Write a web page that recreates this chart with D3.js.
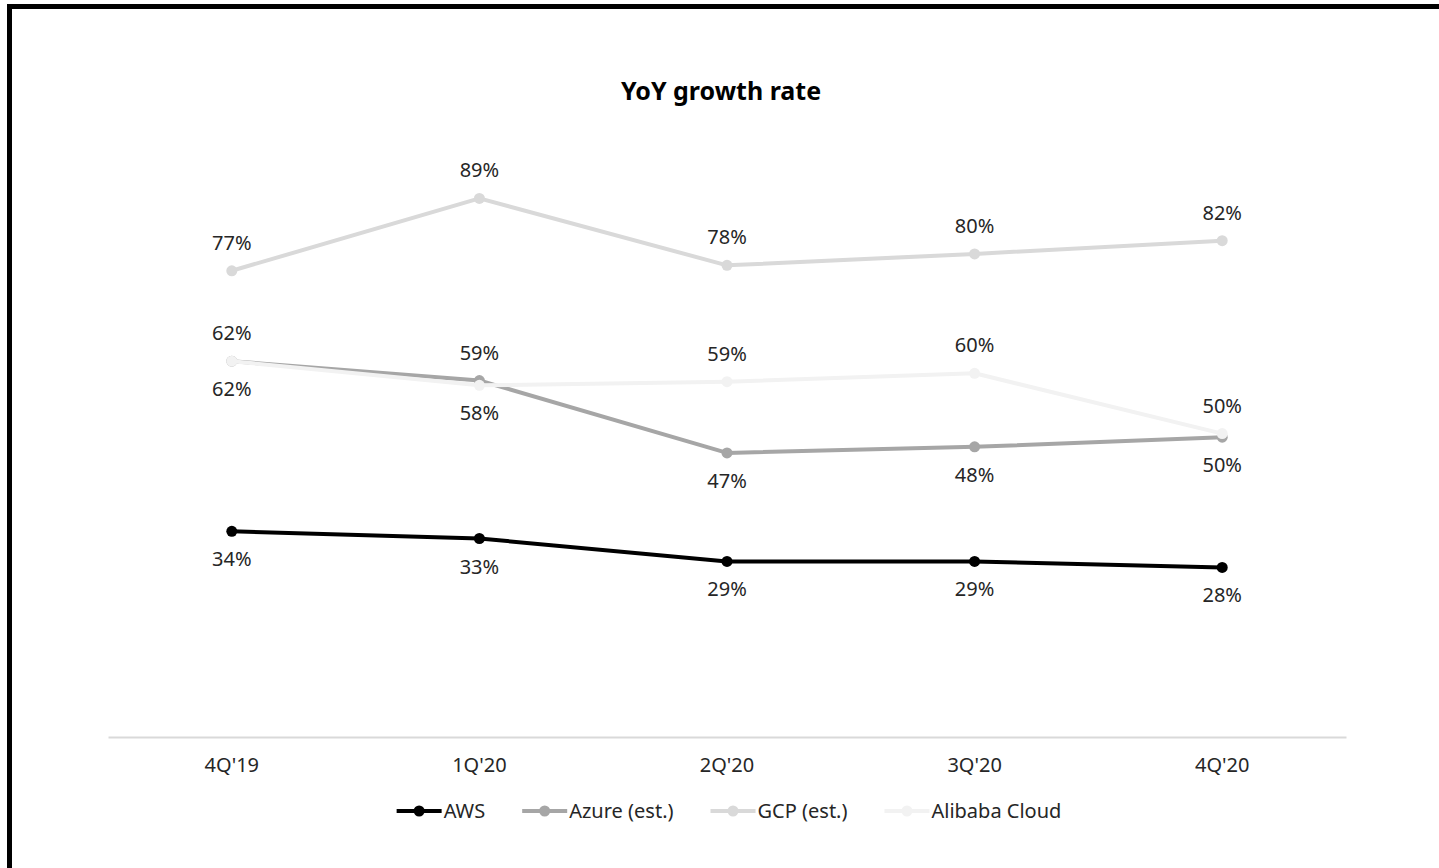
<!DOCTYPE html>
<html>
<head>
<meta charset="utf-8">
<script src="https://cdn.jsdelivr.net/npm/d3@7"></script>
<style>
  body { margin: 0; background: #fff; }
  svg { display: block; font-family: "Noto Sans", sans-serif; }
</style>
</head>
<body>
<svg width="1439" height="868"></svg>
<script>
// quarters on the x axis
var quarters = ["4Q'19", "1Q'20", "2Q'20", "3Q'20", "4Q'20"];
var seriesNames = ["AWS", "Azure (est.)", "GCP (est.)", "Alibaba Cloud"];

// YoY growth in %
var awsValues = [34.2, 33.0, 29.2, 29.2, 28.2];
var azureValues = [62.4, 59.2, 47.2, 48.2, 49.8];
var gcpValues = [77.4, 89.4, 78.3, 80.2, 82.4];
var alibabaValues = [62.4, 58.4, 59.0, 60.4, 50.4];

var colors = ["#000000", "#a6a6a6", "#d9d9d9", "#f2f2f2"];
// where each point label sits, +1 below the point, -1 above
var labelSide = [
    [1, 1, 1, 1, 1],
    [-1, -1, 1, 1, 1],
    [-1, -1, -1, -1, -1],
    [1, 1, -1, -1, -1]
];

var series = [awsValues, azureValues, gcpValues, alibabaValues].map(function (vals, i) {
    return {name: seriesNames[i], color: colors[i], sides: labelSide[i],
        values: vals.map(function (v, j) { return {q: quarters[j], v: v}; })};
});

var svg = d3.select("svg");

// frame round the chart
svg.append("rect")
    .attr("x", 9.5).attr("y", 6.5)
    .attr("width", 1460).attr("height", 900)
    .attr("fill", "none").attr("stroke", "#000").attr("stroke-width", 5);

svg.append("text")
    .attr("x", 721).attr("y", 91)
    .attr("dy", "0.35em")
    .attr("text-anchor", "middle")
    .attr("font-size", 25).attr("font-weight", "bold")
    .attr("fill", "#000")
    .text("YoY growth rate");

var x = d3.scaleBand().domain(quarters).range([108, 1346]);
var y = d3.scaleLinear().domain([0, 100]).range([737.5, 134.5]);

// x axis
var xAxis = svg.append("g")
    .attr("transform", "translate(0,737)")
    .call(d3.axisBottom(x).tickSize(0).tickPadding(21));
xAxis.select(".domain").attr("stroke", "#d9d9d9").attr("stroke-width", 2);
xAxis.selectAll("text")
    .attr("font-size", 20).attr("fill", "#262626")
    .attr("font-family", "Noto Sans, sans-serif");

var cx = function (d) { return x(d.q) + x.bandwidth() / 2; };
var line = d3.line().x(cx).y(function (d) { return y(d.v); });

var g = svg.selectAll(".series")
    .data(series)
    .enter().append("g")
    .attr("class", "series");

g.append("path")
    .attr("d", function (d) { return line(d.values); })
    .attr("fill", "none")
    .attr("stroke", function (d) { return d.color; })
    .attr("stroke-width", 4)
    .attr("stroke-linejoin", "round");

g.selectAll("circle")
    .data(function (d) { return d.values.map(function (p) { return {q: p.q, v: p.v, color: d.color}; }); })
    .enter().append("circle")
    .attr("cx", cx)
    .attr("cy", function (d) { return y(d.v); })
    .attr("r", 5.5)
    .attr("fill", function (d) { return d.color; });

// value labels
series.forEach(function (s) {
    svg.append("g").selectAll("text")
        .data(s.values)
        .enter().append("text")
        .attr("x", cx)
        .attr("y", function (d, i) { return y(d.v) + s.sides[i] * 28; })
        .attr("dy", "0.35em")
        .attr("text-anchor", "middle")
        .attr("font-size", 20)
        .attr("fill", "#262626")
        .text(function (d) { return Math.round(d.v) + "%"; });
});

// legend
var legend = svg.append("g");
var lx = 0;
series.forEach(function (s) {
    var item = legend.append("g").attr("transform", "translate(" + lx + ",0)");
    item.append("line")
        .attr("x1", 0).attr("x2", 45)
        .attr("stroke", s.color).attr("stroke-width", 4);
    item.append("circle").attr("cx", 22.5).attr("r", 5.5).attr("fill", s.color);
    var t = item.append("text")
        .attr("x", 47).attr("dy", "0.35em")
        .attr("font-size", 20).attr("fill", "#262626")
        .text(s.name);
    lx += 47 + t.node().getComputedTextLength() + 37;
});
lx -= 37;
legend.attr("transform", "translate(" + (729 - lx / 2) + ",811)");
</script>
</body>
</html>
